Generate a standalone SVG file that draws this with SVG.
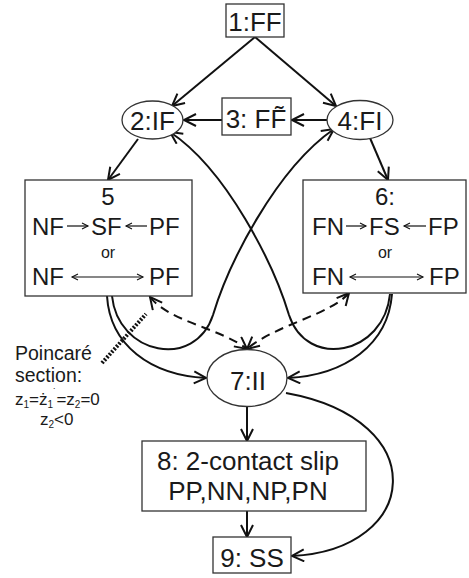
<svg xmlns="http://www.w3.org/2000/svg" width="469" height="578" viewBox="0 0 469 578">
<style>
.box{fill:#fff;stroke:#333;stroke-width:1.3}
.t{font-family:"Liberation Sans",Arial,sans-serif;fill:#1a1a1a}
.n{font-size:26px}
.b{font-size:24px}
.c{fill:none;stroke:#111;stroke-width:2}
.d{fill:none;stroke:#111;stroke-width:2;stroke-dasharray:9,6}
.s{fill:none;stroke:#111;stroke-width:1.2}
</style>
<defs>
<marker id="a" markerUnits="userSpaceOnUse" markerWidth="16" markerHeight="16" refX="13" refY="7" orient="auto-start-reverse">
<path d="M1,1 L13,7 L1,13" fill="none" stroke="#111" stroke-width="2"/>
</marker>
<marker id="sa" markerUnits="userSpaceOnUse" markerWidth="10" markerHeight="10" refX="7" refY="4" orient="auto-start-reverse">
<path d="M1,1 L7,4 L1,7" fill="none" stroke="#111" stroke-width="1.1"/>
</marker>
</defs>
<rect width="469" height="578" fill="#fff"/>
<g id="connectors">
<line class="c" x1="255" y1="37" x2="172" y2="106" marker-end="url(#a)"/>
<line class="c" x1="255" y1="37" x2="336" y2="106" marker-end="url(#a)"/>
<line class="c" x1="222" y1="120" x2="184" y2="120" marker-end="url(#a)"/>
<line class="c" x1="327" y1="120" x2="292" y2="120" marker-end="url(#a)"/>
<line class="c" x1="138" y1="139" x2="108" y2="180" marker-end="url(#a)"/>
<line class="c" x1="370" y1="138" x2="388" y2="180" marker-end="url(#a)"/>
<path class="c" d="M112,296 C118,355 195,370 213,315 C228,265 275,170 334,129" marker-end="url(#a)"/>
<path class="c" d="M390,294 C384,355 307,370 289,315 C274,265 227,170 170,132" marker-end="url(#a)"/>
<path class="c" d="M107,296 C110,345 150,375 206,378" marker-end="url(#a)"/>
<path class="c" d="M392,294 C388,345 345,375 288,378" marker-end="url(#a)"/>
<path class="d" d="M150,297 C170,322 220,328 247,349" marker-start="url(#a)" marker-end="url(#a)"/>
<path class="d" d="M349,293 C330,315 275,325 247,349" marker-start="url(#a)" marker-end="url(#a)"/>
<line class="c" x1="247" y1="406" x2="247" y2="441" marker-end="url(#a)"/>
<line class="c" x1="247" y1="511" x2="247" y2="537" marker-end="url(#a)"/>
<path class="c" d="M286,393 C435,420 420,550 292,556" marker-end="url(#a)"/>
<line x1="102" y1="363" x2="146" y2="314" stroke="#111" stroke-width="4" stroke-dasharray="2,1.6"/>
</g>
<g id="n1"><rect class="box" x="226" y="4" width="58" height="33"/><text class="t n" x="255" y="31" text-anchor="middle">1:FF</text></g>
<g id="n2"><ellipse class="box" cx="152.5" cy="120" rx="30.5" ry="19"/><text class="t n" x="152.5" y="130" text-anchor="middle">2:IF</text></g>
<g id="n3"><rect class="box" x="222" y="98" width="69" height="37"/><text class="t n" x="256" y="128" text-anchor="middle">3: FF̃</text></g>
<g id="n4"><ellipse class="box" cx="360" cy="120" rx="33" ry="19.5"/><text class="t n" x="360" y="130" text-anchor="middle">4:FI</text></g>
<g id="n5">
<rect class="box" x="25" y="180" width="167" height="116"/>
<text class="t b" x="108" y="205" text-anchor="middle">5</text>
<text class="t b" x="32" y="235">NF</text>
<text class="t b" x="91" y="235">SF</text>
<text class="t b" x="149" y="235">PF</text>
<line class="s" x1="67" y1="226" x2="88" y2="226" marker-end="url(#sa)"/>
<line class="s" x1="147" y1="226" x2="126" y2="226" marker-end="url(#sa)"/>
<text class="t" x="108" y="258" text-anchor="middle" font-size="16">or</text>
<text class="t b" x="32" y="285">NF</text>
<text class="t b" x="149" y="285">PF</text>
<line class="s" x1="72" y1="277" x2="143" y2="277" marker-start="url(#sa)" marker-end="url(#sa)"/>
</g>
<g id="n6">
<rect class="box" x="303" y="180" width="163" height="113"/>
<text class="t b" x="385" y="205" text-anchor="middle">6:</text>
<text class="t b" x="312" y="235">FN</text>
<text class="t b" x="369" y="235">FS</text>
<text class="t b" x="428" y="235">FP</text>
<line class="s" x1="346" y1="226" x2="366" y2="226" marker-end="url(#sa)"/>
<line class="s" x1="426" y1="226" x2="404" y2="226" marker-end="url(#sa)"/>
<text class="t" x="385" y="258" text-anchor="middle" font-size="16">or</text>
<text class="t b" x="312" y="285">FN</text>
<text class="t b" x="429" y="285">FP</text>
<line class="s" x1="350" y1="277" x2="423" y2="277" marker-start="url(#sa)" marker-end="url(#sa)"/>
</g>
<g id="n7"><ellipse class="box" cx="247" cy="378" rx="40" ry="28.5"/><text class="t n" x="248" y="390" text-anchor="middle">7:II</text></g>
<g id="n8"><rect class="box" x="142" y="441" width="224" height="70"/><text class="t n" x="248" y="470" text-anchor="middle">8: 2-contact slip</text><text class="t n" x="248" y="500" text-anchor="middle">PP,NN,NP,PN</text></g>
<g id="n9"><rect class="box" x="213" y="537" width="78" height="36"/><text class="t n" x="252" y="567" text-anchor="middle">9: SS</text></g>
<g id="label">
<text class="t" x="15" y="360" font-size="19.5">Poincaré</text>
<text class="t" x="15" y="382" font-size="19.5">section:</text>
<text class="t" x="15" y="405" font-size="17">z<tspan font-size="10" dy="3">1</tspan><tspan dy="-3">=ż</tspan><tspan font-size="10" dy="3">1</tspan><tspan font-size="10" dy="-12">˙</tspan><tspan dy="9">=z</tspan><tspan font-size="10" dy="3">2</tspan><tspan dy="-3">=0</tspan></text>
<text class="t" x="40" y="425" font-size="17">z<tspan font-size="10" dy="3">2</tspan><tspan dy="-3">&lt;0</tspan></text>
</g>
</svg>
